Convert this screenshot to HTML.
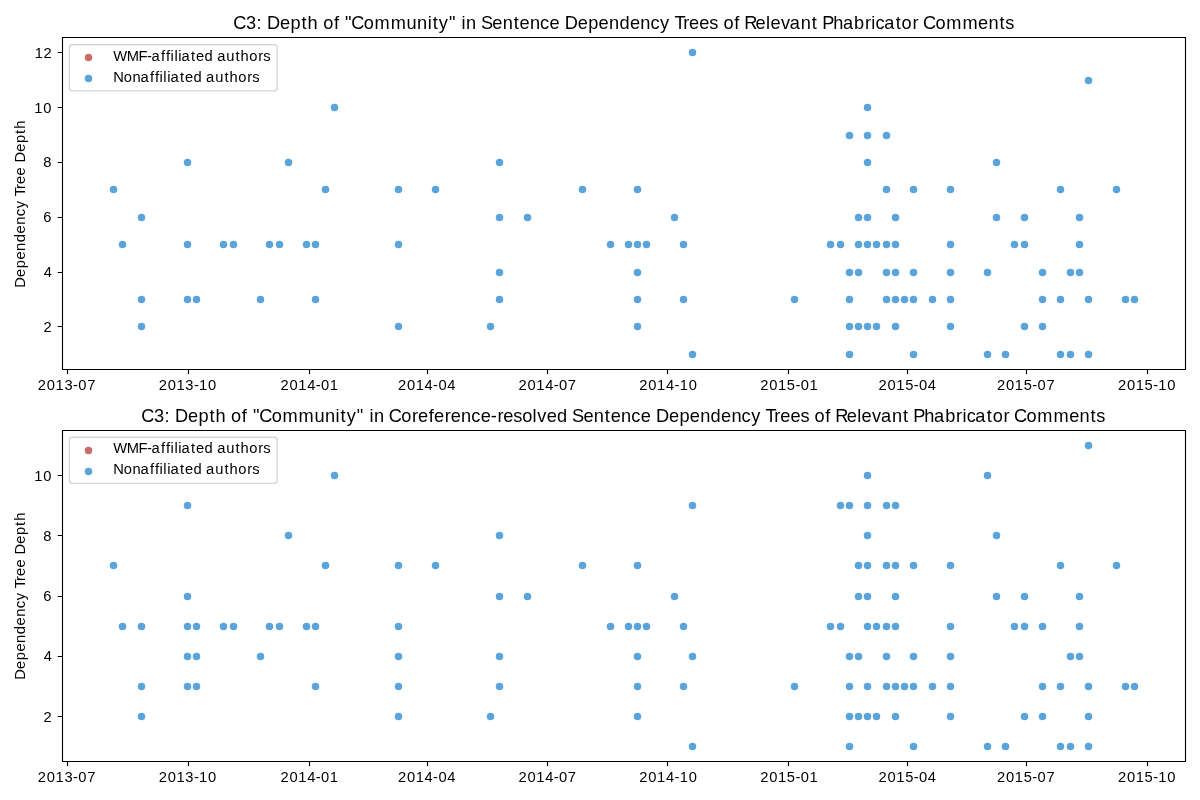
<!DOCTYPE html>
<html><head><meta charset="utf-8"><title>C3: Depth of "Community" in Dependency Trees</title>
<style>html,body{margin:0;padding:0;background:#fff;width:1200px;height:800px;overflow:hidden;font-family:"Liberation Sans",sans-serif}svg{display:block;will-change:transform}text{font-kerning:none}</style>
</head><body>
<svg width="1200" height="800" viewBox="0 0 1200 800">
<rect x="0" y="0" width="1200" height="800" fill="#ffffff"/>
<g fill="#5ba3db">
<circle cx="113.5" cy="189.5" r="3.75"/>
<circle cx="122.5" cy="244.5" r="3.75"/>
<circle cx="141.5" cy="217.5" r="3.75"/>
<circle cx="141.5" cy="299.5" r="3.75"/>
<circle cx="141.5" cy="326.5" r="3.75"/>
<circle cx="187.5" cy="162.5" r="3.75"/>
<circle cx="187.5" cy="244.5" r="3.75"/>
<circle cx="187.5" cy="299.5" r="3.75"/>
<circle cx="196.5" cy="299.5" r="3.75"/>
<circle cx="223.5" cy="244.5" r="3.75"/>
<circle cx="233.5" cy="244.5" r="3.75"/>
<circle cx="260.5" cy="299.5" r="3.75"/>
<circle cx="269.5" cy="244.5" r="3.75"/>
<circle cx="279.5" cy="244.5" r="3.75"/>
<circle cx="288.5" cy="162.5" r="3.75"/>
<circle cx="306.5" cy="244.5" r="3.75"/>
<circle cx="315.5" cy="244.5" r="3.75"/>
<circle cx="315.5" cy="299.5" r="3.75"/>
<circle cx="325.5" cy="189.5" r="3.75"/>
<circle cx="334.5" cy="107.5" r="3.75"/>
<circle cx="398.5" cy="189.5" r="3.75"/>
<circle cx="398.5" cy="244.5" r="3.75"/>
<circle cx="398.5" cy="326.5" r="3.75"/>
<circle cx="435.5" cy="189.5" r="3.75"/>
<circle cx="490.5" cy="326.5" r="3.75"/>
<circle cx="499.5" cy="162.5" r="3.75"/>
<circle cx="499.5" cy="217.5" r="3.75"/>
<circle cx="499.5" cy="272.5" r="3.75"/>
<circle cx="499.5" cy="299.5" r="3.75"/>
<circle cx="527.5" cy="217.5" r="3.75"/>
<circle cx="582.5" cy="189.5" r="3.75"/>
<circle cx="610.5" cy="244.5" r="3.75"/>
<circle cx="628.5" cy="244.5" r="3.75"/>
<circle cx="637.5" cy="189.5" r="3.75"/>
<circle cx="637.5" cy="244.5" r="3.75"/>
<circle cx="637.5" cy="272.5" r="3.75"/>
<circle cx="637.5" cy="299.5" r="3.75"/>
<circle cx="637.5" cy="326.5" r="3.75"/>
<circle cx="646.5" cy="244.5" r="3.75"/>
<circle cx="674.5" cy="217.5" r="3.75"/>
<circle cx="683.5" cy="244.5" r="3.75"/>
<circle cx="683.5" cy="299.5" r="3.75"/>
<circle cx="692.5" cy="52.5" r="3.75"/>
<circle cx="692.5" cy="354.5" r="3.75"/>
<circle cx="794.5" cy="299.5" r="3.75"/>
<circle cx="830.5" cy="244.5" r="3.75"/>
<circle cx="840.5" cy="244.5" r="3.75"/>
<circle cx="849.5" cy="135.5" r="3.75"/>
<circle cx="849.5" cy="272.5" r="3.75"/>
<circle cx="849.5" cy="299.5" r="3.75"/>
<circle cx="849.5" cy="326.5" r="3.75"/>
<circle cx="849.5" cy="354.5" r="3.75"/>
<circle cx="858.5" cy="217.5" r="3.75"/>
<circle cx="858.5" cy="244.5" r="3.75"/>
<circle cx="858.5" cy="272.5" r="3.75"/>
<circle cx="858.5" cy="326.5" r="3.75"/>
<circle cx="867.5" cy="107.5" r="3.75"/>
<circle cx="867.5" cy="135.5" r="3.75"/>
<circle cx="867.5" cy="162.5" r="3.75"/>
<circle cx="867.5" cy="217.5" r="3.75"/>
<circle cx="867.5" cy="244.5" r="3.75"/>
<circle cx="867.5" cy="326.5" r="3.75"/>
<circle cx="876.5" cy="244.5" r="3.75"/>
<circle cx="876.5" cy="326.5" r="3.75"/>
<circle cx="886.5" cy="135.5" r="3.75"/>
<circle cx="886.5" cy="189.5" r="3.75"/>
<circle cx="886.5" cy="244.5" r="3.75"/>
<circle cx="886.5" cy="272.5" r="3.75"/>
<circle cx="886.5" cy="299.5" r="3.75"/>
<circle cx="895.5" cy="217.5" r="3.75"/>
<circle cx="895.5" cy="244.5" r="3.75"/>
<circle cx="895.5" cy="272.5" r="3.75"/>
<circle cx="895.5" cy="299.5" r="3.75"/>
<circle cx="895.5" cy="326.5" r="3.75"/>
<circle cx="904.5" cy="299.5" r="3.75"/>
<circle cx="913.5" cy="189.5" r="3.75"/>
<circle cx="913.5" cy="272.5" r="3.75"/>
<circle cx="913.5" cy="299.5" r="3.75"/>
<circle cx="913.5" cy="354.5" r="3.75"/>
<circle cx="932.5" cy="299.5" r="3.75"/>
<circle cx="950.5" cy="189.5" r="3.75"/>
<circle cx="950.5" cy="244.5" r="3.75"/>
<circle cx="950.5" cy="272.5" r="3.75"/>
<circle cx="950.5" cy="299.5" r="3.75"/>
<circle cx="950.5" cy="326.5" r="3.75"/>
<circle cx="987.5" cy="272.5" r="3.75"/>
<circle cx="987.5" cy="354.5" r="3.75"/>
<circle cx="996.5" cy="162.5" r="3.75"/>
<circle cx="996.5" cy="217.5" r="3.75"/>
<circle cx="1005.5" cy="354.5" r="3.75"/>
<circle cx="1014.5" cy="244.5" r="3.75"/>
<circle cx="1024.5" cy="217.5" r="3.75"/>
<circle cx="1024.5" cy="244.5" r="3.75"/>
<circle cx="1024.5" cy="326.5" r="3.75"/>
<circle cx="1042.5" cy="272.5" r="3.75"/>
<circle cx="1042.5" cy="299.5" r="3.75"/>
<circle cx="1042.5" cy="326.5" r="3.75"/>
<circle cx="1060.5" cy="189.5" r="3.75"/>
<circle cx="1060.5" cy="299.5" r="3.75"/>
<circle cx="1060.5" cy="354.5" r="3.75"/>
<circle cx="1070.5" cy="272.5" r="3.75"/>
<circle cx="1070.5" cy="354.5" r="3.75"/>
<circle cx="1079.5" cy="217.5" r="3.75"/>
<circle cx="1079.5" cy="244.5" r="3.75"/>
<circle cx="1079.5" cy="272.5" r="3.75"/>
<circle cx="1088.5" cy="80.5" r="3.75"/>
<circle cx="1088.5" cy="299.5" r="3.75"/>
<circle cx="1088.5" cy="354.5" r="3.75"/>
<circle cx="1116.5" cy="189.5" r="3.75"/>
<circle cx="1125.5" cy="299.5" r="3.75"/>
<circle cx="1134.5" cy="299.5" r="3.75"/>
</g>
<path d="M62.5 37.5V369.5M1185.5 37.5V369.5M62.5 37.5H1185.5M62.5 369.5H1185.5" stroke="#000" stroke-width="1.11" fill="none" stroke-linecap="square"/>
<path d="M67.5 369.5v4.86M188.5 369.5v4.86M309.5 369.5v4.86M427.5 369.5v4.86M547.5 369.5v4.86M667.5 369.5v4.86M788.5 369.5v4.86M907.5 369.5v4.86M1026.5 369.5v4.86M1147.5 369.5v4.86M62.5 326.5h-4.86M62.5 272.5h-4.86M62.5 217.5h-4.86M62.5 162.5h-4.86M62.5 107.5h-4.86M62.5 52.5h-4.86" stroke="#000" stroke-width="1.11" fill="none"/>
<rect x="69.35" y="44.78" width="207.75" height="46.06" rx="2.78" ry="2.78" fill="#fff" fill-opacity="0.8" stroke="#cccccc" stroke-opacity="0.8" stroke-width="1.39"/>
<circle cx="88.5" cy="57.5" r="3.75" fill="#c86e66"/>
<circle cx="88.5" cy="78.5" r="3.75" fill="#5ba3db"/>
<g fill="#5ba3db">
<circle cx="113.5" cy="565.5" r="3.75"/>
<circle cx="122.5" cy="626.5" r="3.75"/>
<circle cx="141.5" cy="626.5" r="3.75"/>
<circle cx="141.5" cy="686.5" r="3.75"/>
<circle cx="141.5" cy="716.5" r="3.75"/>
<circle cx="187.5" cy="505.5" r="3.75"/>
<circle cx="187.5" cy="596.5" r="3.75"/>
<circle cx="187.5" cy="626.5" r="3.75"/>
<circle cx="187.5" cy="656.5" r="3.75"/>
<circle cx="187.5" cy="686.5" r="3.75"/>
<circle cx="196.5" cy="626.5" r="3.75"/>
<circle cx="196.5" cy="656.5" r="3.75"/>
<circle cx="196.5" cy="686.5" r="3.75"/>
<circle cx="223.5" cy="626.5" r="3.75"/>
<circle cx="233.5" cy="626.5" r="3.75"/>
<circle cx="260.5" cy="656.5" r="3.75"/>
<circle cx="269.5" cy="626.5" r="3.75"/>
<circle cx="279.5" cy="626.5" r="3.75"/>
<circle cx="288.5" cy="535.5" r="3.75"/>
<circle cx="306.5" cy="626.5" r="3.75"/>
<circle cx="315.5" cy="626.5" r="3.75"/>
<circle cx="315.5" cy="686.5" r="3.75"/>
<circle cx="325.5" cy="565.5" r="3.75"/>
<circle cx="334.5" cy="475.5" r="3.75"/>
<circle cx="398.5" cy="565.5" r="3.75"/>
<circle cx="398.5" cy="626.5" r="3.75"/>
<circle cx="398.5" cy="656.5" r="3.75"/>
<circle cx="398.5" cy="686.5" r="3.75"/>
<circle cx="398.5" cy="716.5" r="3.75"/>
<circle cx="435.5" cy="565.5" r="3.75"/>
<circle cx="490.5" cy="716.5" r="3.75"/>
<circle cx="499.5" cy="535.5" r="3.75"/>
<circle cx="499.5" cy="596.5" r="3.75"/>
<circle cx="499.5" cy="656.5" r="3.75"/>
<circle cx="499.5" cy="686.5" r="3.75"/>
<circle cx="527.5" cy="596.5" r="3.75"/>
<circle cx="582.5" cy="565.5" r="3.75"/>
<circle cx="610.5" cy="626.5" r="3.75"/>
<circle cx="628.5" cy="626.5" r="3.75"/>
<circle cx="637.5" cy="565.5" r="3.75"/>
<circle cx="637.5" cy="626.5" r="3.75"/>
<circle cx="637.5" cy="656.5" r="3.75"/>
<circle cx="637.5" cy="686.5" r="3.75"/>
<circle cx="637.5" cy="716.5" r="3.75"/>
<circle cx="646.5" cy="626.5" r="3.75"/>
<circle cx="674.5" cy="596.5" r="3.75"/>
<circle cx="683.5" cy="626.5" r="3.75"/>
<circle cx="683.5" cy="686.5" r="3.75"/>
<circle cx="692.5" cy="505.5" r="3.75"/>
<circle cx="692.5" cy="656.5" r="3.75"/>
<circle cx="692.5" cy="746.5" r="3.75"/>
<circle cx="794.5" cy="686.5" r="3.75"/>
<circle cx="830.5" cy="626.5" r="3.75"/>
<circle cx="840.5" cy="505.5" r="3.75"/>
<circle cx="840.5" cy="626.5" r="3.75"/>
<circle cx="849.5" cy="505.5" r="3.75"/>
<circle cx="849.5" cy="656.5" r="3.75"/>
<circle cx="849.5" cy="686.5" r="3.75"/>
<circle cx="849.5" cy="716.5" r="3.75"/>
<circle cx="849.5" cy="746.5" r="3.75"/>
<circle cx="858.5" cy="565.5" r="3.75"/>
<circle cx="858.5" cy="596.5" r="3.75"/>
<circle cx="858.5" cy="656.5" r="3.75"/>
<circle cx="858.5" cy="716.5" r="3.75"/>
<circle cx="867.5" cy="475.5" r="3.75"/>
<circle cx="867.5" cy="505.5" r="3.75"/>
<circle cx="867.5" cy="535.5" r="3.75"/>
<circle cx="867.5" cy="565.5" r="3.75"/>
<circle cx="867.5" cy="596.5" r="3.75"/>
<circle cx="867.5" cy="626.5" r="3.75"/>
<circle cx="867.5" cy="686.5" r="3.75"/>
<circle cx="867.5" cy="716.5" r="3.75"/>
<circle cx="876.5" cy="626.5" r="3.75"/>
<circle cx="876.5" cy="716.5" r="3.75"/>
<circle cx="886.5" cy="505.5" r="3.75"/>
<circle cx="886.5" cy="565.5" r="3.75"/>
<circle cx="886.5" cy="626.5" r="3.75"/>
<circle cx="886.5" cy="656.5" r="3.75"/>
<circle cx="886.5" cy="686.5" r="3.75"/>
<circle cx="895.5" cy="505.5" r="3.75"/>
<circle cx="895.5" cy="565.5" r="3.75"/>
<circle cx="895.5" cy="596.5" r="3.75"/>
<circle cx="895.5" cy="626.5" r="3.75"/>
<circle cx="895.5" cy="686.5" r="3.75"/>
<circle cx="895.5" cy="716.5" r="3.75"/>
<circle cx="904.5" cy="686.5" r="3.75"/>
<circle cx="913.5" cy="565.5" r="3.75"/>
<circle cx="913.5" cy="656.5" r="3.75"/>
<circle cx="913.5" cy="686.5" r="3.75"/>
<circle cx="913.5" cy="746.5" r="3.75"/>
<circle cx="932.5" cy="686.5" r="3.75"/>
<circle cx="950.5" cy="565.5" r="3.75"/>
<circle cx="950.5" cy="626.5" r="3.75"/>
<circle cx="950.5" cy="656.5" r="3.75"/>
<circle cx="950.5" cy="686.5" r="3.75"/>
<circle cx="950.5" cy="716.5" r="3.75"/>
<circle cx="987.5" cy="475.5" r="3.75"/>
<circle cx="987.5" cy="746.5" r="3.75"/>
<circle cx="996.5" cy="535.5" r="3.75"/>
<circle cx="996.5" cy="596.5" r="3.75"/>
<circle cx="1005.5" cy="746.5" r="3.75"/>
<circle cx="1014.5" cy="626.5" r="3.75"/>
<circle cx="1024.5" cy="596.5" r="3.75"/>
<circle cx="1024.5" cy="626.5" r="3.75"/>
<circle cx="1024.5" cy="716.5" r="3.75"/>
<circle cx="1042.5" cy="626.5" r="3.75"/>
<circle cx="1042.5" cy="686.5" r="3.75"/>
<circle cx="1042.5" cy="716.5" r="3.75"/>
<circle cx="1060.5" cy="565.5" r="3.75"/>
<circle cx="1060.5" cy="686.5" r="3.75"/>
<circle cx="1060.5" cy="746.5" r="3.75"/>
<circle cx="1070.5" cy="656.5" r="3.75"/>
<circle cx="1070.5" cy="746.5" r="3.75"/>
<circle cx="1079.5" cy="596.5" r="3.75"/>
<circle cx="1079.5" cy="626.5" r="3.75"/>
<circle cx="1079.5" cy="656.5" r="3.75"/>
<circle cx="1088.5" cy="445.5" r="3.75"/>
<circle cx="1088.5" cy="686.5" r="3.75"/>
<circle cx="1088.5" cy="716.5" r="3.75"/>
<circle cx="1088.5" cy="746.5" r="3.75"/>
<circle cx="1116.5" cy="565.5" r="3.75"/>
<circle cx="1125.5" cy="686.5" r="3.75"/>
<circle cx="1134.5" cy="686.5" r="3.75"/>
</g>
<path d="M62.5 430.5V761.5M1185.5 430.5V761.5M62.5 430.5H1185.5M62.5 761.5H1185.5" stroke="#000" stroke-width="1.11" fill="none" stroke-linecap="square"/>
<path d="M67.5 761.5v4.86M188.5 761.5v4.86M309.5 761.5v4.86M427.5 761.5v4.86M547.5 761.5v4.86M667.5 761.5v4.86M788.5 761.5v4.86M907.5 761.5v4.86M1026.5 761.5v4.86M1147.5 761.5v4.86M62.5 716.5h-4.86M62.5 656.5h-4.86M62.5 596.5h-4.86M62.5 535.5h-4.86M62.5 475.5h-4.86" stroke="#000" stroke-width="1.11" fill="none"/>
<rect x="69.35" y="437.28" width="207.75" height="46.06" rx="2.78" ry="2.78" fill="#fff" fill-opacity="0.8" stroke="#cccccc" stroke-opacity="0.8" stroke-width="1.39"/>
<circle cx="88.5" cy="450.5" r="3.75" fill="#c86e66"/>
<circle cx="88.5" cy="471.5" r="3.75" fill="#5ba3db"/>
<g font-family="'Liberation Sans', sans-serif" fill="#000">
<text x="233.29 246.01 256.61 262.05 267.07 280.11 290.57 301.49 307.54 317.97 323.17 333.92 339.28 345.04 351.24 363.74 374.45 390.64 406.44 417.05 427.63 432.64 438.85 448.91 456.08 461.54 466.11 476.52 480.99 492.33 502.72 513.69 519.62 530 540.11 549.52 559.77 564.79 577.84 588.29 598.62 609 619.42 629.94 640.32 650.43 660.12 669.7 674.4 683.22 689.08 699.31 709.35 718.22 723.42 734.17 739.53 744.16 755.59 766.01 770.44 780.95 789.81 800.85 811.82 817.77 822.16 833.19 842.9 854.01 864.94 871.37 875.52 884.23 895.71 901.58 912.41 918.66 922.98 935.48 946.19 962.38 978.1 988.48 999.46 1005.19" y="29" font-size="18.2">C3: Depth of &quot;Community&quot; in Sentence Dependency Trees of Relevant Phabricator Comments</text>
<text x="0.05 10.89 19.62 28.23 36.9 45.59 54.37 63.04 71.47 79.55 87.5 91.5 98.89 103.88 112.42 120.91 125.21 136.05 144.78 153.83 158.94" y="0" font-size="14.72" transform="translate(25 287.81) rotate(-90) scale(1 1)">Dependency Tree Depth</text>
<text x="37.85 46.86 55.61 64.54 73.08 78.35 87.15" y="390" font-size="14.72">2013-07</text>
<text x="158.68 167.69 176.44 185.36 193.91 199.1 208.01" y="390" font-size="14.72">2013-10</text>
<text x="280.57 289.58 298.33 307.23 315.8 321.07 329.82" y="390" font-size="14.72">2014-01</text>
<text x="397.89 406.9 415.66 424.56 433.12 438.39 447.22" y="390" font-size="14.72">2014-04</text>
<text x="518.47 527.48 536.23 545.13 553.7 558.97 567.77" y="390" font-size="14.72">2014-07</text>
<text x="639.3 648.31 657.06 665.96 674.52 679.72 688.63" y="390" font-size="14.72">2014-10</text>
<text x="760.19 769.2 777.95 786.8 795.41 800.69 809.44" y="390" font-size="14.72">2015-01</text>
<text x="878.51 887.52 896.27 905.13 913.74 919.01 927.84" y="390" font-size="14.72">2015-04</text>
<text x="997.09 1006.1 1014.85 1023.7 1032.32 1037.59 1046.39" y="390" font-size="14.72">2015-07</text>
<text x="1117.92 1126.93 1135.68 1144.53 1153.14 1158.34 1167.24" y="390" font-size="14.72">2015-10</text>
<text x="43.57" y="332" font-size="14.72">2</text>
<text x="43.75" y="277" font-size="14.72">4</text>
<text x="43.13" y="222" font-size="14.72">6</text>
<text x="43.13" y="167" font-size="14.72">8</text>
<text x="34.3 43.2" y="113" font-size="14.72">10</text>
<text x="34.8 43.52" y="58" font-size="14.72">12</text>
<text x="113.21 126.87 138.45 147.02 151.61 161.05 165.93 170.54 174.39 178.25 181.44 190.95 195.96 204.52 213.26 217.14 226.28 235.44 240.56 249.19 258.19 263.26" y="61" font-size="14.72">WMF-affiliated authors</text>
<text x="113.17 123.83 132.5 140.59 150.03 154.92 159.53 163.37 167.24 170.43 179.93 184.94 193.5 202.24 206.12 215.27 224.42 229.54 238.18 247.17 252.25" y="82" font-size="14.72">Nonaffiliated authors</text>
<text x="141.22 153.95 164.55 169.98 175.01 188.05 198.5 209.42 215.48 225.91 231.11 241.86 247.22 252.98 259.17 271.68 282.39 298.58 314.38 324.99 335.57 340.58 346.78 356.85 364.01 369.48 374.05 384.45 388.76 401.27 412.1 417.96 428.7 434.04 444.87 450.73 461.11 471.22 480.63 490.74 497.46 503.32 513.36 522.15 532.57 537.28 546.84 557.1 567.64 572.11 583.46 593.84 604.81 610.74 621.12 631.23 640.65 650.89 655.92 668.96 679.41 689.74 700.13 710.54 721.06 731.44 741.55 751.24 760.82 765.52 774.34 780.2 790.43 800.47 809.34 814.55 825.29 830.65 835.29 846.72 857.14 861.56 872.07 880.93 891.97 902.95 908.89 913.28 924.31 934.02 945.13 956.06 962.5 966.64 975.36 986.84 992.7 1003.53 1009.79 1014.1 1026.6 1037.31 1053.51 1069.22 1079.61 1090.58 1096.32" y="422" font-size="18.2">C3: Depth of &quot;Community&quot; in Coreference-resolved Sentence Dependency Trees of Relevant Phabricator Comments</text>
<text x="0.05 10.89 19.62 28.23 36.9 45.59 54.37 63.04 71.47 79.55 87.5 91.5 98.89 103.88 112.42 120.91 125.21 136.05 144.78 153.83 158.94" y="0" font-size="14.72" transform="translate(25 679.81) rotate(-90) scale(1 1)">Dependency Tree Depth</text>
<text x="37.85 46.86 55.61 64.54 73.08 78.35 87.15" y="782" font-size="14.72">2013-07</text>
<text x="158.68 167.69 176.44 185.36 193.91 199.1 208.01" y="782" font-size="14.72">2013-10</text>
<text x="280.57 289.58 298.33 307.23 315.8 321.07 329.82" y="782" font-size="14.72">2014-01</text>
<text x="397.89 406.9 415.66 424.56 433.12 438.39 447.22" y="782" font-size="14.72">2014-04</text>
<text x="518.47 527.48 536.23 545.13 553.7 558.97 567.77" y="782" font-size="14.72">2014-07</text>
<text x="639.3 648.31 657.06 665.96 674.52 679.72 688.63" y="782" font-size="14.72">2014-10</text>
<text x="760.19 769.2 777.95 786.8 795.41 800.69 809.44" y="782" font-size="14.72">2015-01</text>
<text x="878.51 887.52 896.27 905.13 913.74 919.01 927.84" y="782" font-size="14.72">2015-04</text>
<text x="997.09 1006.1 1014.85 1023.7 1032.32 1037.59 1046.39" y="782" font-size="14.72">2015-07</text>
<text x="1117.92 1126.93 1135.68 1144.53 1153.14 1158.34 1167.24" y="782" font-size="14.72">2015-10</text>
<text x="43.57" y="722" font-size="14.72">2</text>
<text x="43.75" y="661" font-size="14.72">4</text>
<text x="43.13" y="601" font-size="14.72">6</text>
<text x="43.13" y="541" font-size="14.72">8</text>
<text x="34.3 43.2" y="481" font-size="14.72">10</text>
<text x="113.21 126.87 138.45 147.02 151.61 161.05 165.93 170.54 174.39 178.25 181.44 190.95 195.96 204.52 213.26 217.14 226.28 235.44 240.56 249.19 258.19 263.26" y="453" font-size="14.72">WMF-affiliated authors</text>
<text x="113.17 123.83 132.5 140.59 150.03 154.92 159.53 163.37 167.24 170.43 179.93 184.94 193.5 202.24 206.12 215.27 224.42 229.54 238.18 247.17 252.25" y="474" font-size="14.72">Nonaffiliated authors</text>
</g>
</svg>
</body></html>
